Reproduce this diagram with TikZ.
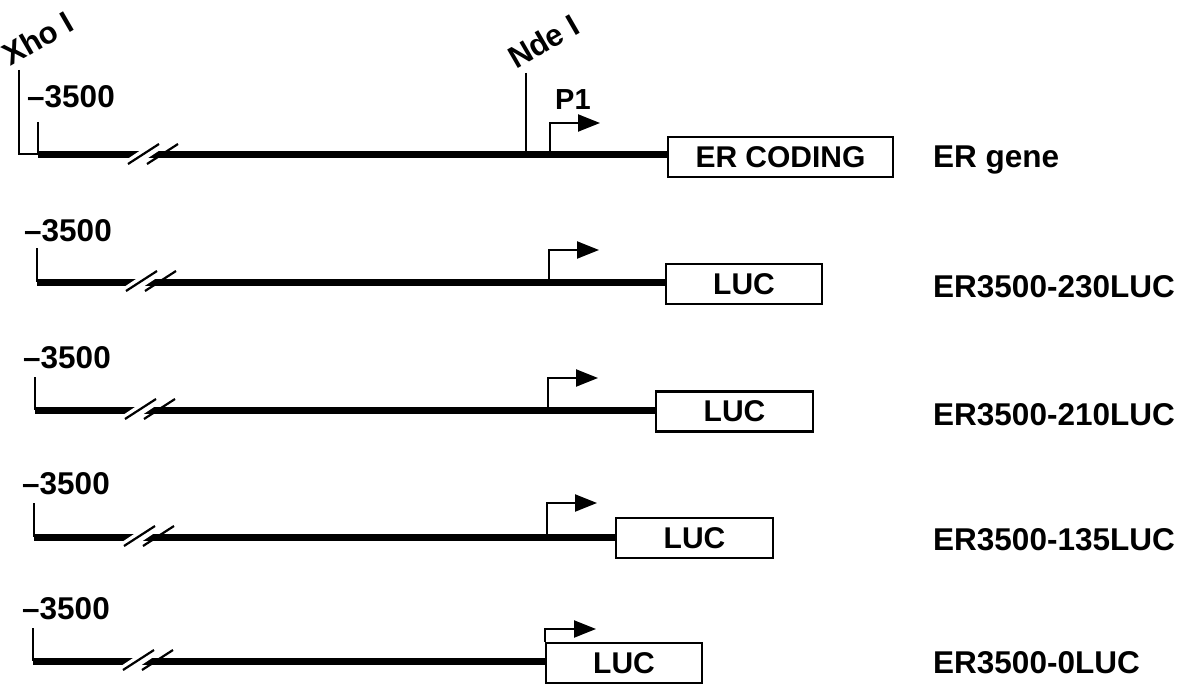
\documentclass[tikz,border=0pt]{standalone}
\usepackage{fontspec}
\setmainfont{Liberation Sans}
\usetikzlibrary{arrows.meta}
\begin{document}
\begin{tikzpicture}[x=1pt,y=-1pt,
  lbl/.style={inner sep=0pt, anchor=base west, font=\bfseries\fontsize{31.5}{36}\selectfont},
  site/.style={inner sep=0pt, anchor=base west, rotate=30, font=\bfseries\fontsize{31}{36}\selectfont},
  dna/.style={line width=7pt},
  thinline/.style={line width=2.2pt},
  genebox/.style={draw, line width=2.8pt, fill=white, inner sep=0pt, minimum height=40pt, font=\bfseries\fontsize{30}{36}\selectfont},
  prom/.style={line width=2.2pt, -{Triangle[length=22pt,width=17pt]}},
  slash/.style={line width=2.2pt}
]
\useasboundingbox (0,0) rectangle (1194,687);

% ---------- Row 1: ER gene ----------
\coordinate (s1) at (38,155);
\node[genebox, minimum width=225pt] (b1) at (780.5,157) {ER CODING};
\draw[dna] (s1) -- (b1.west |- s1);
\coordinate (t1) at (38,122);
\draw[thinline] (t1) -- (s1);
\coordinate (xa) at (19,70);
\coordinate (xb) at (19,154);
\draw[thinline] (xa) -- (xb) -- (xb -| s1);
\node[site] (xho) at (10,67) {Xho I};
\coordinate (na) at (526,73);
\coordinate (nb) at (526,155);
\draw[thinline] (na) -- (nb);
\node[site] (nde) at (516,70) {Nde I};
\node[inner sep=0pt, anchor=base west, font=\bfseries\fontsize{29}{34}\selectfont] (p1lbl) at (555,110) {P1};
\coordinate (pa1) at (550,155);
\coordinate (pe1) at (600,123);
\draw[prom] (pa1) |- (pe1);
\node[lbl] (m1) at (27,108) {–3500};
\node[lbl] (n1) at (933,168) {ER gene};

% ---------- Row 2 ----------
\coordinate (s2) at (37,282);
\node[genebox, minimum width=156pt] (b2) at (744,284) {LUC};
\draw[dna] (s2) -- (b2.west |- s2);
\coordinate (t2) at (37,248);
\draw[thinline] (t2) -- (s2);
\coordinate (pa2) at (549,282);
\coordinate (pe2) at (599,250);
\draw[prom] (pa2) |- (pe2);
\node[lbl] (m2) at (24,242) {–3500};
\node[lbl] (n2) at (933,297) {ER3500-230LUC};

% ---------- Row 3 ----------
\coordinate (s3) at (35,410);
\node[genebox, minimum width=157pt] (b3) at (734.5,411.5) {LUC};
\draw[dna] (s3) -- (b3.west |- s3);
\coordinate (t3) at (35,377);
\draw[thinline] (t3) -- (s3);
\coordinate (pa3) at (548,410);
\coordinate (pe3) at (598,378);
\draw[prom] (pa3) |- (pe3);
\node[lbl] (m3) at (23,368) {–3500};
\node[lbl] (n3) at (933,425) {ER3500-210LUC};

% ---------- Row 4 ----------
\coordinate (s4) at (34,537);
\node[genebox, minimum width=157pt] (b4) at (694.5,538) {LUC};
\draw[dna] (s4) -- (b4.west |- s4);
\coordinate (t4) at (34,503);
\draw[thinline] (t4) -- (s4);
\coordinate (pa4) at (547,537);
\coordinate (pe4) at (597,503);
\draw[prom] (pa4) |- (pe4);
\node[lbl] (m4) at (22,494) {–3500};
\node[lbl] (n4) at (933,550) {ER3500-135LUC};

% ---------- Row 5 ----------
\coordinate (s5) at (33,661);
\node[genebox, minimum width=156pt] (b5) at (624,663) {LUC};
\draw[dna] (s5) -- (b5.west |- s5);
\coordinate (t5) at (33,628);
\draw[thinline] (t5) -- (s5);
\coordinate (pe5) at (596,629);
\draw[prom] (b5.north west) |- (pe5);
\node[lbl] (m5) at (22,619) {–3500};
\node[lbl] (n5) at (933,673) {ER3500-0LUC};

% ---------- break marks ----------
\foreach \L/\dx in {155/2, 282/0, 410/-1, 537/-2, 661/-3}{
  \fill[white] (124+\dx,\L+5) -- (151+\dx,\L-13) -- (170+\dx,\L-13) -- (143+\dx,\L+5) -- cycle;
  \draw[slash] (126+\dx,\L+9) -- (157+\dx,\L-11);
  \draw[slash] (145+\dx,\L+9) -- (176+\dx,\L-11);
}
\end{tikzpicture}
\end{document}
